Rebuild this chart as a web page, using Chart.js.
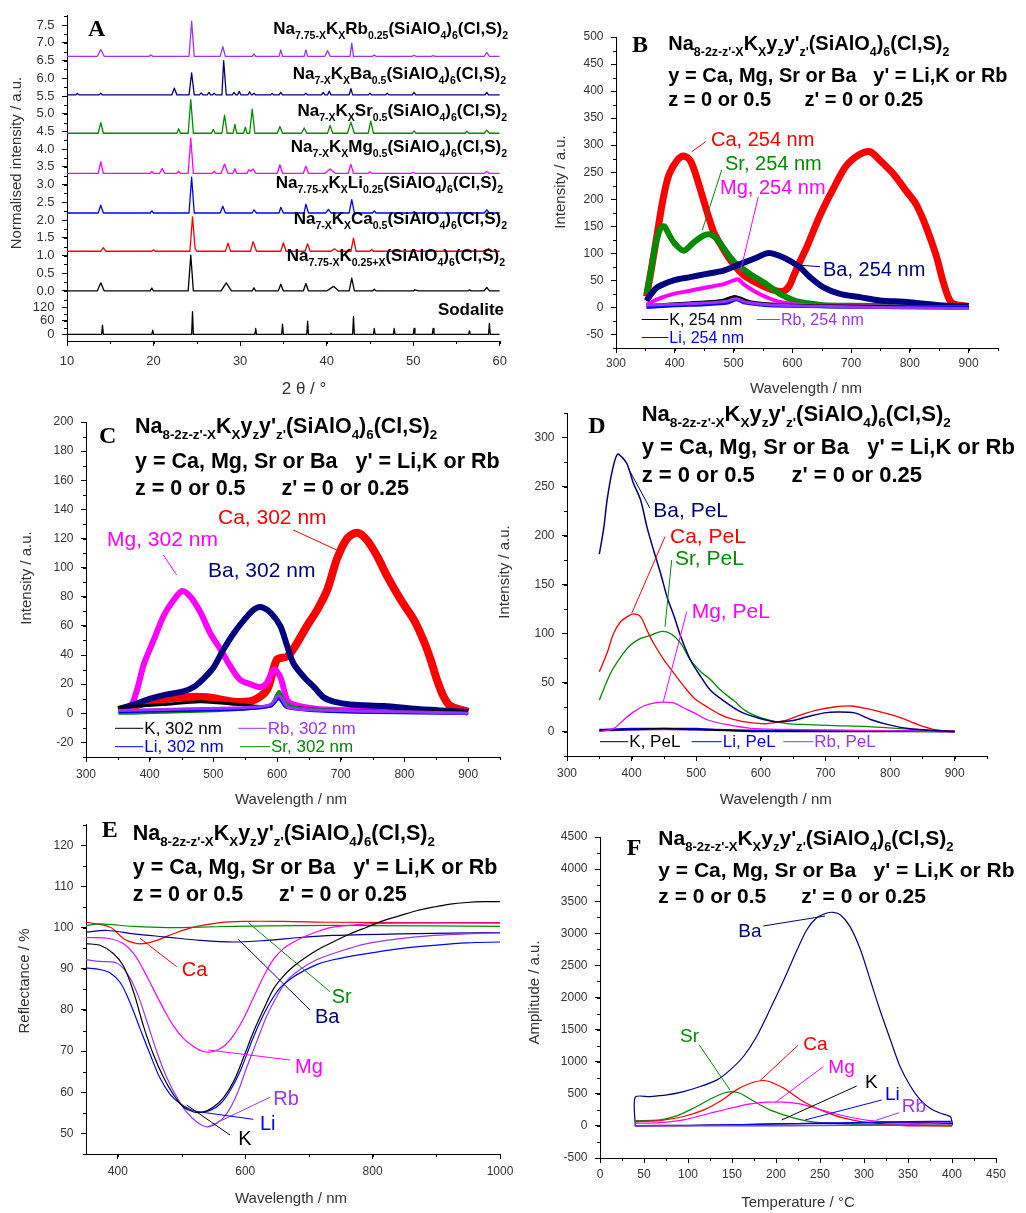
<!DOCTYPE html>
<html>
<head>
<meta charset="utf-8">
<title>Sodalite XRD, PL, reflectance and TL</title>
<script src="https://cdn.jsdelivr.net/npm/chart.js@4.4.1/dist/chart.umd.min.js"></script>
<style>
  body { margin: 0; background: #fff; }
  #page { position: relative; width: 1026px; height: 1213px; overflow: hidden; background: #fff; }
  #page canvas { position: absolute; }
</style>
</head>
<body>
<div id="page">
  <canvas id="chart-a"></canvas>
  <canvas id="chart-b"></canvas>
  <canvas id="chart-c"></canvas>
  <canvas id="chart-d"></canvas>
  <canvas id="chart-e"></canvas>
  <canvas id="chart-f"></canvas>
</div>
<script>
// ---- A: XRD patterns, [2theta, normalised intensity incl. stacking offset]
const xrdRb = [[10,6.62],[13.5,6.62],[13.9,6.81],[14.3,6.62],[19.5,6.62],[19.7,6.66],[19.9,6.62],[24.1,6.62],[24.4,7.61],[24.7,6.62],[27.7,6.62],[28.0,6.89],[28.3,6.62],[31.4,6.62],[31.6,6.69],[31.8,6.62],[34.5,6.62],[34.7,6.80],[34.9,6.62],[37.4,6.62],[37.6,6.80],[37.8,6.62],[39.8,6.62],[40.1,6.78],[40.4,6.62],[42.7,6.62],[42.9,6.99],[43.1,6.62],[45.3,6.62],[45.5,6.66],[45.7,6.62],[49.9,6.62],[50.1,6.65],[50.3,6.62],[52.1,6.62],[52.3,6.64],[52.5,6.62],[58.2,6.62],[58.5,6.73],[58.8,6.62],[60,6.62]]
const xrdBa = [[10,5.53],[11.0,5.53],[11.2,5.57],[11.4,5.53],[13.7,5.53],[13.9,5.58],[14.1,5.53],[22.1,5.53],[22.4,5.72],[22.7,5.53],[24.1,5.53],[24.4,6.15],[24.7,5.53],[25.3,5.53],[25.5,5.59],[25.7,5.53],[26.2,5.53],[26.4,5.60],[26.6,5.53],[26.8,5.53],[27.0,5.58],[27.2,5.53],[27.9,5.53],[28.1,6.50],[28.4,5.53],[29.1,5.53],[29.3,5.60],[29.5,5.53],[29.7,5.53],[29.9,5.63],[30.1,5.53],[30.9,5.53],[31.1,5.62],[31.3,5.53],[31.4,5.53],[31.6,5.58],[31.8,5.53],[33.5,5.53],[33.7,5.57],[33.9,5.53],[34.5,5.53],[34.7,5.60],[34.9,5.53],[37.4,5.53],[37.6,5.58],[37.8,5.53],[39.4,5.53],[39.6,5.60],[39.8,5.53],[40.1,5.53],[40.3,5.64],[40.5,5.53],[42.6,5.53],[42.8,5.71],[43.0,5.53],[44.8,5.53],[45.0,5.58],[45.2,5.53],[46.8,5.53],[47.0,5.58],[47.2,5.53],[49.9,5.53],[50.1,5.60],[50.3,5.53],[58.3,5.53],[58.5,5.60],[58.7,5.53],[60,5.53]]
const xrdSr = [[10,4.45],[13.6,4.45],[13.9,4.75],[14.2,4.45],[22.7,4.45],[22.9,4.58],[23.1,4.45],[24.0,4.45],[24.3,5.40],[24.6,4.45],[26.7,4.45],[26.9,4.56],[27.1,4.45],[27.9,4.45],[28.2,4.96],[28.5,4.45],[29.2,4.45],[29.4,4.70],[29.6,4.45],[30.4,4.45],[30.6,4.62],[30.8,4.45],[31.1,4.45],[31.4,5.13],[31.7,4.45],[34.3,4.45],[34.6,4.64],[34.9,4.45],[37.1,4.45],[37.4,4.60],[37.7,4.45],[40.1,4.45],[40.4,4.67],[40.7,4.45],[42.4,4.45],[42.8,4.76],[43.2,4.45],[44.8,4.45],[45.1,4.79],[45.4,4.45],[49.9,4.45],[50.1,4.52],[50.3,4.45],[56.0,4.45],[56.2,4.51],[56.4,4.45],[58.2,4.45],[58.5,4.54],[58.8,4.45],[60,4.45]]
const xrdMg = [[10,3.32],[13.6,3.32],[13.9,3.65],[14.2,3.32],[19.6,3.32],[19.8,3.37],[20.0,3.32],[20.7,3.32],[21.0,3.45],[21.3,3.32],[22.7,3.32],[22.9,3.38],[23.1,3.32],[24.0,3.32],[24.3,4.31],[24.6,3.32],[26.8,3.32],[27.0,3.38],[27.2,3.32],[27.8,3.32],[28.2,3.58],[28.6,3.32],[29.2,3.32],[29.4,3.45],[29.6,3.32],[30.8,3.32],[31.0,3.42],[31.2,3.38],[31.5,3.44],[31.8,3.32],[34.3,3.32],[34.6,3.56],[34.9,3.32],[37.3,3.32],[37.6,3.52],[37.9,3.32],[39.8,3.32],[40.4,3.44],[41.0,3.32],[42.5,3.32],[42.8,3.57],[43.1,3.32],[44.8,3.32],[45.0,3.36],[45.2,3.32],[49.8,3.32],[50.0,3.35],[50.2,3.32],[58.2,3.32],[58.5,3.37],[58.8,3.32],[60,3.32]]
const xrdLi = [[10,2.2],[13.6,2.2],[13.9,2.42],[14.2,2.2],[19.6,2.2],[19.8,2.26],[20.0,2.2],[24.1,2.2],[24.4,3.21],[24.7,2.2],[27.7,2.2],[28.0,2.39],[28.3,2.2],[31.4,2.2],[31.6,2.29],[31.9,2.2],[34.5,2.2],[34.7,2.36],[35.0,2.2],[37.4,2.2],[37.6,2.45],[37.9,2.2],[39.9,2.2],[40.2,2.3],[40.5,2.2],[42.6,2.2],[42.9,2.58],[43.2,2.2],[45.3,2.2],[45.5,2.26],[45.7,2.2],[49.9,2.2],[50.1,2.24],[50.3,2.2],[58.2,2.2],[58.5,2.29],[58.8,2.2],[60,2.2]]
const xrdCa = [[10,1.12],[13.9,1.12],[14.2,1.22],[14.5,1.12],[19.8,1.12],[20.0,1.16],[20.2,1.12],[24.2,1.12],[24.5,2.09],[24.8,1.2],[25.0,1.12],[28.3,1.12],[28.6,1.35],[28.9,1.12],[31.2,1.12],[31.5,1.39],[31.9,1.12],[34.7,1.12],[35.0,1.36],[35.3,1.12],[37.5,1.12],[37.8,1.33],[38.1,1.12],[40.5,1.12],[40.9,1.19],[41.3,1.12],[42.8,1.12],[43.1,1.49],[43.4,1.12],[45.0,1.12],[45.2,1.17],[45.4,1.12],[50.1,1.12],[50.3,1.15],[50.5,1.12],[52.1,1.12],[52.3,1.15],[52.5,1.12],[58.4,1.12],[58.7,1.2],[59.0,1.12],[60,1.12]]
const xrdK = [[10,0],[13.5,0],[13.9,0.23],[14.3,0],[19.6,0],[19.8,0.08],[20.0,0],[24.0,0],[24.3,1.01],[24.6,0],[27.8,0],[28.4,0.23],[29.0,0],[31.4,0],[31.6,0.09],[31.8,0],[34.4,0],[34.7,0.19],[35.0,0],[37.3,0],[37.6,0.21],[37.9,0],[40.0,0],[40.8,0.13],[41.4,0],[42.6,0],[42.9,0.36],[43.2,0],[45.3,0],[45.5,0.05],[45.7,0],[50.0,0],[50.2,0.03],[50.6,0],[56.3,0],[56.5,0.03],[56.7,0],[58.2,0],[58.5,0.1],[58.8,0],[60,0]]
const xrdSodalite = [[10,0],[14.0,0],[14.1,41],[14.2,0],[19.8,0],[19.9,19],[20.0,0],[24.4,0],[24.5,100],[24.6,0],[31.7,0],[31.8,26],[31.9,0],[34.8,0],[34.9,45],[35.0,0],[37.7,0],[37.8,58],[37.9,0],[40.4,0],[40.5,6],[40.6,0],[43.0,0],[43.1,78],[43.2,0],[45.4,0],[45.5,26],[45.6,0],[47.7,0],[47.8,26],[47.9,0],[50.0,0],[50.1,26],[50.2,0],[52.2,0],[52.3,26],[52.4,0],[56.4,0],[56.5,16],[56.6,0],[58.7,0],[58.8,48],[58.9,0],[60,0]]

// ---- B: emission under 254 nm, [wavelength nm, intensity]
const b254Ca = [[352,20],[360,70],[370,135],[380,200],[390,245],[404,272],[415,280],[426,272],[435,248],[443,220],[454,180],[466,140],[477,118],[490,95],[500,80],[511,66],[522,56],[545,42],[568,32],[585,30],[595,40],[602,58],[613,85],[624,110],[647,170],[670,220],[692,262],[715,283],[732,288],[749,272],[771,248],[794,215],[811,190],[828,148],[845,95],[856,50],[865,20],[872,8],[884,4],[900,2]]
const b254Sr = [[352,25],[360,70],[366,110],[375,145],[382,150],[390,135],[400,118],[415,105],[432,120],[449,133],[460,135],[470,128],[483,110],[495,92],[505,80],[528,62],[556,43],[579,25],[600,14],[613,10],[653,4],[700,3],[800,2],[900,1]]
const b254Ba = [[352,12],[360,25],[370,37],[398,50],[426,56],[454,62],[483,68],[511,80],[539,92],[556,100],[565,100],[579,95],[596,86],[613,74],[630,56],[653,37],[681,25],[715,19],[749,13],[794,10],[851,4],[900,2]]
const b254Mg = [[352,5],[370,15],[398,25],[426,31],[454,37],[483,43],[500,50],[508,52],[517,43],[534,31],[556,19],[579,10],[624,4],[700,2],[900,0]]
const b254K = [[352,3],[400,7],[450,10],[480,13],[500,20],[510,18],[530,10],[580,5],[650,3],[900,0]]
const b254Li = [[352,0],[400,3],[450,5],[490,8],[505,14],[520,8],[560,3],[700,1],[900,0]]
const b254Rb = [[352,4],[400,6],[450,8],[490,12],[505,16],[520,10],[560,5],[650,2],[750,0],[900,-2]]

// ---- C: emission under 302 nm
const c302Mg = [[351,2],[370,5],[380,16],[391,34],[406,50],[422,67],[438,78],[451,84],[464,80],[480,69],[495,55],[511,44],[527,32],[542,23],[558,20],[574,18],[584,21],[595,30],[605,25],[616,9],[626,6],[663,3],[741,2],[900,1]]
const c302Ba = [[351,3],[375,6],[401,10],[427,13],[453,15],[469,18],[485,24],[501,32],[516,44],[532,55],[548,64],[563,71],[574,73],[590,69],[605,60],[616,46],[626,34],[642,25],[658,18],[673,11],[689,8],[715,6],[768,5],[820,3],[900,1]]
const c302Ca = [[351,2],[401,8],[453,11],[490,11],[532,8],[563,9],[584,16],[600,37],[616,39],[631,48],[647,60],[663,71],[679,85],[694,106],[710,120],[726,124],[741,119],[757,108],[773,94],[794,78],[815,64],[830,50],[841,37],[851,23],[862,11],[872,5],[900,1]]
const c302Sr = [[351,0],[450,1],[550,3],[590,6],[603,15],[612,8],[630,4],[700,2],[900,0]]
const c302K = [[351,4],[420,6],[480,8],[540,6],[590,5],[603,12],[615,5],[700,2],[900,1]]
const c302Li = [[351,1],[450,2],[550,3],[590,5],[603,10],[615,4],[700,1],[900,0]]
const c302Rb = [[351,2],[450,3],[550,4],[590,6],[603,12],[618,4],[700,2],[800,1],[900,0]]

// ---- D: persistent luminescence (PeL)
const dBa = [[350,181],[357,208],[362,236],[370,266],[378,283],[385,280],[393,273],[403,253],[414,236],[424,208],[434,185],[445,161],[455,137],[466,117],[476,97],[491,73],[507,56],[522,42],[543,31],[569,20],[595,14],[621,10],[647,11],[672,15],[698,19],[719,20],[745,19],[771,12],[797,7],[828,3],[869,1],[900,0]]
const dCa = [[350,61],[362,80],[372,100],[383,112],[393,117],[403,120],[414,117],[424,103],[434,90],[450,73],[466,59],[481,46],[497,34],[517,25],[538,17],[559,12],[584,9],[610,8],[636,11],[662,17],[688,22],[714,25],[740,26],[766,23],[791,19],[817,14],[843,7],[869,2],[900,0]]
const dSr = [[350,32],[367,59],[383,76],[398,88],[414,95],[429,98],[445,102],[460,100],[476,90],[491,73],[507,61],[522,53],[538,42],[559,31],[579,20],[610,12],[641,8],[672,7],[714,6],[766,5],[817,3],[900,0]]
const dMg = [[350,0],[372,3],[388,12],[403,20],[419,26],[434,29],[450,30],[466,29],[481,24],[497,19],[517,12],[548,7],[590,3],[662,2],[900,0]]
const dK = [[350,1],[400,2],[450,3],[500,2],[550,1],[600,0],[900,0]]
const dLi = [[350,2],[400,3],[450,3],[500,3],[530,2],[600,1],[900,0]]
const dRb = [[350,1],[450,2],[550,1],[700,1],[900,0]]

// ---- E: diffuse reflectance, [wavelength nm, %]
const eK = [[350,96.1],[372,95.7],[393,93.7],[409,90.6],[425,84.2],[440,76.2],[456,69.1],[472,63.5],[487,59.5],[503,56.4],[519,55.2],[534,55.2],[550,56.4],[566,58.7],[582,62.7],[597,68.3],[613,74.7],[629,80.2],[644,85.0],[660,88.2],[676,90.6],[697,93.0],[718,95.0],[738,96.5],[765,98.5],[791,100.1],[817,101.7],[843,102.9],[869,104.1],[896,105.0],[922,105.7],[948,106.1],[974,106.3],[1000,106.3]]
const eLi = [[350,90.2],[372,89.8],[388,89.0],[404,86.6],[419,81.8],[435,75.4],[451,69.1],[466,63.5],[482,59.5],[498,57.2],[514,55.8],[529,55.2],[545,55.6],[561,57.2],[576,60.3],[592,65.1],[608,71.5],[623,77.0],[639,81.8],[655,85.4],[670,87.4],[686,89.0],[712,91.0],[738,92.2],[791,93.7],[843,94.9],[896,95.7],[948,96.3],[1000,96.5]]
const eRb = [[350,92.2],[372,91.8],[398,91.4],[414,89.0],[430,84.2],[446,77.0],[461,69.9],[477,63.5],[493,58.7],[508,55.2],[524,52.8],[540,51.6],[555,52.4],[571,54.8],[587,59.5],[602,65.9],[618,72.3],[634,78.6],[650,83.4],[665,87.0],[686,89.8],[712,92.2],[738,93.7],[791,96.1],[843,97.3],[896,98.1],[948,98.5],[1000,98.7]]
const eMg = [[350,97.6],[388,97.3],[409,96.1],[425,93.7],[440,89.8],[456,85.0],[472,80.2],[487,76.2],[503,73.1],[519,71.1],[534,69.9],[550,69.9],[566,71.1],[582,73.9],[597,77.8],[613,83.0],[629,88.2],[644,92.2],[660,94.9],[676,96.5],[697,98.1],[718,99.3],[738,100.1],[791,100.9],[843,101.1],[1000,101.1]]
const eCa = [[350,101.3],[388,100.1],[409,97.3],[425,96.3],[440,96.1],[461,96.9],[487,98.5],[519,100.1],[555,101.1],[597,101.5],[660,101.5],[738,101.3],[1000,101.2]]
const eSr = [[350,100.5],[372,100.9],[425,100.3],[477,100.0],[529,100.1],[582,100.3],[686,100.5],[791,100.5],[1000,100.3]]
const eBa = [[350,98.9],[383,99.3],[425,98.5],[477,97.7],[529,96.9],[582,96.5],[634,96.9],[686,97.6],[738,98.1],[843,98.5],[1000,98.8]]

// ---- F: thermoluminescence, [temperature C, amplitude]
const fBa = [[40,0],[40,447],[57,457],[76,483],[95,535],[114,613],[133,717],[148,873],[163,1081],[178,1393],[193,1809],[209,2276],[224,2744],[235,3056],[246,3238],[258,3316],[265,3326],[273,3290],[284,3108],[296,2744],[307,2276],[318,1809],[330,1341],[341,925],[353,613],[364,405],[375,275],[387,197],[398,146],[400,68],[400,15],[40,5]]
const fSr = [[40,83],[68,94],[87,156],[106,275],[125,416],[140,509],[150,535],[159,509],[171,416],[182,327],[193,249],[209,171],[224,109],[239,68],[258,42],[296,26],[334,16],[400,0]]
const fCa = [[40,68],[68,83],[95,146],[118,249],[136,379],[155,561],[171,665],[186,707],[197,665],[209,587],[220,483],[231,379],[246,275],[262,187],[277,120],[296,68],[315,42],[334,16],[353,0],[400,0]]
const fMg = [[40,42],[68,52],[95,94],[125,197],[148,275],[171,343],[190,369],[209,369],[227,343],[246,275],[265,197],[284,135],[307,83],[334,57],[372,52],[400,68]]
const fK = [[40,5],[100,10],[150,18],[200,30],[250,40],[300,48],[350,45],[400,40]]
const fLi = [[40,0],[100,5],[150,18],[200,30],[250,42],[300,55],[353,68],[400,70]]
const fRb = [[40,0],[100,2],[200,5],[300,10],[350,20],[400,60]]

const SANS = '"Liberation Sans", Arial, sans-serif'
const SERIF = '"Liberation Serif", "Times New Roman", serif'
const RED = '#ff0000', GREEN = '#008c00', BLUE = '#0000ff', NAVY = '#000080'
const MAGENTA = '#ff00ff', PURPLE = '#9933ff', BLACK = '#000000', GREY = '#333333'

Chart.defaults.font.family = SANS

const FORMULA = "Na_{8-2z-z'-X}K_{X}y_{z}y'_{z'}(SiAlO_{4})_{6}(Cl,S)_{2}"
const FORMULA_Y = "y = Ca, Mg, Sr or Ba   y' = Li,K or Rb"
const FORMULA_Z = "z = 0 or 0.5      z' = 0 or 0.25"

function parseRich(str) {
  const parts = []
  const re = /_\{([^}]*)\}/g
  let last = 0
  let m
  while ((m = re.exec(str)) !== null) {
    if (m.index > last) parts.push({ t: str.slice(last, m.index), sub: false })
    parts.push({ t: m[1], sub: true })
    last = re.lastIndex
  }
  if (last < str.length) parts.push({ t: str.slice(last), sub: false })
  return parts
}

function drawRich(ctx, r) {
  const size = r.size
  const parts = parseRich(r.s)
  const fontOf = p => `bold ${p.sub ? size * 0.62 : size}px ${SANS}`
  let total = 0
  for (const p of parts) {
    ctx.font = fontOf(p)
    total += ctx.measureText(p.t).width
  }
  let cx = r.align === 'right' ? r.x - total : r.x
  ctx.fillStyle = r.color || BLACK
  ctx.textAlign = 'left'
  ctx.textBaseline = 'alphabetic'
  for (const p of parts) {
    ctx.font = fontOf(p)
    ctx.fillText(p.t, cx, p.sub ? r.y + size * 0.3 : r.y)
    cx += ctx.measureText(p.t).width
  }
}

// notes are given in page pixels; the plugin shifts them into the canvas
function notesPlugin(box, notes) {
  return {
    id: 'notes',
    afterDraw(chart) {
      const ctx = chart.ctx
      ctx.save()
      ctx.translate(-box.x, -box.y)
      ctx.lineWidth = 1
      for (const [x1, y1, x2, y2, c] of notes.leaders || []) {
        ctx.strokeStyle = c
        ctx.beginPath()
        ctx.moveTo(x1, y1)
        ctx.lineTo(x2, y2)
        ctx.stroke()
      }
      for (const t of notes.texts || []) {
        ctx.save()
        ctx.font = `${t.bold ? 'bold ' : ''}${t.size}px ${t.serif ? SERIF : SANS}`
        ctx.fillStyle = t.color || BLACK
        ctx.translate(t.x, t.y)
        if (t.rot) {
          ctx.rotate(-Math.PI / 2)
          ctx.textAlign = 'center'
          ctx.textBaseline = 'middle'
        } else {
          ctx.textAlign = t.align || 'left'
          ctx.textBaseline = 'alphabetic'
        }
        ctx.fillText(t.t, 0, 0)
        ctx.restore()
      }
      for (const r of notes.rich || []) drawRich(ctx, r)
      ctx.restore()
    }
  }
}

function minorPlugin(steps) {
  return {
    id: 'minor',
    afterDraw(chart) {
      const ctx = chart.ctx
      ctx.save()
      ctx.strokeStyle = BLACK
      ctx.lineWidth = 1
      ctx.beginPath()
      for (const [id, step] of steps) {
        const s = chart.scales[id]
        const first = Math.ceil(s.min / step - 1e-9)
        const last = Math.floor(s.max / step + 1e-9)
        for (let i = first; i <= last; i++) {
          const p = Math.round(s.getPixelForValue(i * step)) + 0.5
          if (s.isHorizontal()) {
            ctx.moveTo(p, s.top)
            ctx.lineTo(p, s.top + 3)
          } else {
            ctx.moveTo(s.right, p)
            ctx.lineTo(s.right - 3, p)
          }
        }
      }
      ctx.stroke()
      ctx.restore()
    }
  }
}

const fmt0 = v => String(v)
const fmt1 = v => v.toFixed(1)

function axis(min, max, step, fmt, pad, fit, horizontal, fontSize) {
  return {
    type: 'linear',
    min,
    max,
    border: { color: BLACK, width: 1 },
    grid: { drawOnChartArea: false, drawTicks: true, tickLength: 5, color: BLACK, lineWidth: 1 },
    ticks: {
      stepSize: step, autoSkip: false, maxRotation: 0,
      padding: pad, color: GREY, font: { size: fontSize || 12 }, callback: fmt
    },
    // major ticks only on whole multiples of the step
    afterBuildTicks: s => {
      const first = Math.ceil(min / step - 1e-9)
      const last = Math.floor(max / step + 1e-9)
      const ticks = []
      for (let i = first; i <= last; i++) ticks.push({ value: +(i * step).toFixed(6) })
      s.ticks = ticks
    },
    afterFit: s => {
      if (horizontal) s.height = fit
      else s.width = fit
    }
  }
}

function series(points, color, width, tension, yAxisID) {
  return {
    data: points.map(([x, y]) => ({ x, y })),
    borderColor: color,
    borderWidth: width,
    pointRadius: 0,
    tension: tension,
    fill: false,
    borderJoinStyle: 'round',
    yAxisID: yAxisID || 'y'
  }
}

function panel(id, box, area, scales, datasets, minor, notes) {
  const cv = document.getElementById(id)
  cv.width = box.w
  cv.height = box.h
  cv.style.left = box.x + 'px'
  cv.style.top = box.y + 'px'
  cv.style.width = box.w + 'px'
  cv.style.height = box.h + 'px'
  return new Chart(cv, {
    type: 'line',
    data: { datasets },
    options: {
      responsive: false,
      animation: false,
      events: [],
      layout: { padding: { top: area.t - box.y, right: box.x + box.w - area.r, left: 0, bottom: 0 } },
      plugins: { legend: { display: false }, tooltip: { enabled: false } },
      scales
    },
    plugins: [minorPlugin(minor), notesPlugin(box, notes)]
  })
}

function xFit(box, area) { return box.y + box.h - area.b }
function yFit(box, area) { return area.l - box.x }

function formulaBlock(x, y1, y2, y3, size) {
  return [
    { s: FORMULA, x, y: y1, size },
    { s: FORMULA_Y, x, y: y2, size },
    { s: FORMULA_Z, x, y: y3, size }
  ]
}

function legendRow(x1, x2, y, color, label, size) {
  return {
    leader: [x1, y, x2, y, color],
    text: { t: label, x: x2 + 1, y: y + size * 0.33, size, color }
  }
}

// ---------- Panel A ----------
{
  const box = { x: 0, y: 0, w: 515, h: 400 }
  const area = { l: 67, t: 9, r: 502, b: 341 }
  const yTop = axis(-0.083, 7.777, 0.5, fmt1, 7.5, yFit(box, area), false, 13)
  yTop.stack = 'a'
  yTop.stackWeight = 284
  const yLow = axis(-29, 178, 60, fmt0, 7.5, yFit(box, area), false, 13)
  yLow.stack = 'a'
  yLow.stackWeight = 48
  // left stacks are laid out last-defined first, so the lower axis is listed first
  const scales = { x: axis(10, 60, 10, fmt0, 8, xFit(box, area), true, 13), y2: yLow, y: yTop }
  const datasets = [
    series(xrdRb, PURPLE, 1.3, 0),
    series(xrdBa, NAVY, 1.3, 0),
    series(xrdSr, GREEN, 1.3, 0),
    series(xrdMg, MAGENTA, 1.3, 0),
    series(xrdLi, BLUE, 1.3, 0),
    series(xrdCa, RED, 1.3, 0),
    series(xrdK, BLACK, 1.3, 0),
    series(xrdSodalite, BLACK, 1.3, 0, 'y2')
  ]
  const L = 17
  panel('chart-a', box, area, scales, datasets, [['x', 5], ['y', 0.25], ['y2', 30]], {
    texts: [
      { t: 'A', x: 88, y: 36, size: 24, bold: true, serif: true },
      { t: 'Normalised intensity / a.u.', x: 17, y: 163, size: 15, color: GREY, rot: true },
      { t: '2 θ / °', x: 304, y: 394, size: 17, color: GREY, align: 'center' },
      { t: 'Sodalite', x: 504, y: 315, size: L, bold: true, align: 'right' }
    ],
    rich: [
      { s: 'Na_{7.75-X}K_{X}Rb_{0.25}(SiAlO_{4})_{6}(Cl,S)_{2}', x: 508, y: 34, size: L, align: 'right' },
      { s: 'Na_{7-X}K_{X}Ba_{0.5}(SiAlO_{4})_{6}(Cl,S)_{2}', x: 506, y: 79, size: L, align: 'right' },
      { s: 'Na_{7-X}K_{X}Sr_{0.5}(SiAlO_{4})_{6}(Cl,S)_{2}', x: 507, y: 115.5, size: L, align: 'right' },
      { s: 'Na_{7-X}K_{X}Mg_{0.5}(SiAlO_{4})_{6}(Cl,S)_{2}', x: 507, y: 151.5, size: L, align: 'right' },
      { s: 'Na_{7.75-X}K_{X}Li_{0.25}(SiAlO_{4})_{6}(Cl,S)_{2}', x: 503, y: 188, size: L, align: 'right' },
      { s: 'Na_{7-X}K_{X}Ca_{0.5}(SiAlO_{4})_{6}(Cl,S)_{2}', x: 507, y: 224, size: L, align: 'right' },
      { s: 'Na_{7.75-X}K_{0.25+X}(SiAlO_{4})_{6}(Cl,S)_{2}', x: 505, y: 260.5, size: L, align: 'right' }
    ]
  })
}

// ---------- Panel B ----------
{
  const box = { x: 530, y: 0, w: 496, h: 400 }
  const area = { l: 616, t: 37, r: 998, b: 348 }
  const scales = {
    x: axis(300, 950, 100, fmt0, 3, xFit(box, area), true),
    y: axis(-75, 500, 50, fmt0, 7.5, yFit(box, area), false)
  }
  const datasets = [
    series(b254Rb, PURPLE, 3, 0.3),
    series(b254Li, BLUE, 3, 0.3),
    series(b254K, BLACK, 3, 0.3),
    series(b254Mg, MAGENTA, 4, 0.3),
    series(b254Ba, NAVY, 6, 0.3),
    series(b254Sr, GREEN, 6, 0.3),
    series(b254Ca, RED, 7, 0.3)
  ]
  const lg = [
    legendRow(641.7, 668.3, 319.5, BLACK, 'K, 254 nm', 16),
    legendRow(756.7, 780, 319.5, PURPLE, 'Rb, 254 nm', 16),
    legendRow(641.7, 668.3, 337.5, BLUE, 'Li, 254 nm', 16)
  ]
  panel('chart-b', box, area, scales, datasets, [['x', 50], ['y', 25]], {
    leaders: [
      [705.7, 141.7, 691.7, 151.7, RED],
      [721.7, 170, 702.3, 230, GREEN],
      [758.3, 196.7, 740, 273.3, MAGENTA],
      [820, 266.7, 796.7, 265, NAVY],
      ...lg.map(l => l.leader)
    ],
    texts: [
      { t: 'B', x: 632, y: 51.7, size: 24, bold: true, serif: true },
      { t: 'Ca, 254 nm', x: 711, y: 146, size: 20, color: RED },
      { t: 'Sr, 254 nm', x: 725, y: 170, size: 20, color: GREEN },
      { t: 'Mg, 254 nm', x: 720, y: 194, size: 20, color: MAGENTA },
      { t: 'Ba, 254 nm', x: 823, y: 276, size: 20, color: NAVY },
      { t: 'Intensity / a.u.', x: 560.5, y: 182, size: 15, color: GREY, rot: true },
      { t: 'Wavelength / nm', x: 806, y: 392.7, size: 15, color: GREY, align: 'center' },
      ...lg.map(l => l.text)
    ],
    rich: formulaBlock(668.3, 50, 81.7, 106, 20)
  })
}

// ---------- Panel C ----------
{
  const box = { x: 0, y: 398, w: 510, h: 412 }
  const area = { l: 86, t: 422, r: 500, b: 757 }
  const scales = {
    x: axis(300, 950, 100, fmt0, 5, xFit(box, area), true),
    y: axis(-30, 200, 20, fmt0, 7.5, yFit(box, area), false)
  }
  const datasets = [
    series(c302Rb, PURPLE, 3, 0.3),
    series(c302Li, BLUE, 3, 0.3),
    series(c302Sr, GREEN, 3, 0.3),
    series(c302K, BLACK, 3, 0.3),
    series(c302Ba, NAVY, 6, 0.3),
    series(c302Mg, MAGENTA, 6, 0.3),
    series(c302Ca, RED, 8, 0.3)
  ]
  const lg = [
    legendRow(115, 143.3, 728.3, BLACK, 'K, 302 nm', 17),
    legendRow(238.3, 266.7, 728.3, PURPLE, 'Rb, 302 nm', 17),
    legendRow(115, 143.3, 746.7, BLUE, 'Li, 302 nm', 17),
    legendRow(240, 270, 746.7, GREEN, 'Sr, 302 nm', 17)
  ]
  panel('chart-c', box, area, scales, datasets, [['x', 50], ['y', 10]], {
    leaders: [
      [163.3, 555, 176.7, 575, MAGENTA],
      [293.3, 530, 336.7, 550, RED],
      ...lg.map(l => l.leader)
    ],
    texts: [
      { t: 'C', x: 99, y: 443, size: 24, bold: true, serif: true },
      { t: 'Mg, 302 nm', x: 107, y: 545.5, size: 21, color: MAGENTA },
      { t: 'Ba, 302 nm', x: 208, y: 577, size: 21, color: NAVY },
      { t: 'Ca, 302 nm', x: 218, y: 524, size: 21, color: RED },
      { t: 'Intensity / a.u.', x: 26.7, y: 578, size: 15, color: GREY, rot: true },
      { t: 'Wavelength / nm', x: 291, y: 804, size: 15, color: GREY, align: 'center' },
      ...lg.map(l => l.text)
    ],
    rich: formulaBlock(135, 433, 467.5, 494.5, 21.5)
  })
}

// ---------- Panel D ----------
{
  const box = { x: 490, y: 398, w: 536, h: 412 }
  const area = { l: 567, t: 413, r: 987, b: 756 }
  const scales = {
    x: axis(300, 950, 100, fmt0, 5, xFit(box, area), true),
    y: axis(-25, 325, 50, fmt0, 7.5, yFit(box, area), false)
  }
  const datasets = [
    series(dBa, NAVY, 1.5, 0.3),
    series(dCa, RED, 1.3, 0.3),
    series(dSr, GREEN, 1.3, 0.3),
    series(dMg, MAGENTA, 1.3, 0.3),
    series(dK, BLACK, 1.5, 0.3),
    series(dLi, BLUE, 1.5, 0.3),
    series(dRb, PURPLE, 1.5, 0.3)
  ]
  const lg = [
    legendRow(600, 628.3, 741.7, BLACK, 'K, PeL', 17),
    legendRow(691.7, 721.7, 741.7, BLUE, 'Li, PeL', 17),
    legendRow(783.3, 813.3, 741.7, PURPLE, 'Rb, PeL', 17)
  ]
  panel('chart-d', box, area, scales, datasets, [['x', 50], ['y', 25]], {
    leaders: [
      [650, 508.3, 628.3, 468.3, NAVY],
      [665, 536.7, 631.7, 613.3, RED],
      [671.7, 560, 665, 626.7, GREEN],
      [686.7, 611.7, 663.3, 701.7, MAGENTA],
      ...lg.map(l => l.leader)
    ],
    texts: [
      { t: 'D', x: 588.3, y: 433, size: 24, bold: true, serif: true },
      { t: 'Ba, PeL', x: 653.3, y: 516.7, size: 21, color: NAVY },
      { t: 'Ca, PeL', x: 670, y: 542.7, size: 21, color: RED },
      { t: 'Sr, PeL', x: 675, y: 565, size: 21, color: GREEN },
      { t: 'Mg, PeL', x: 691.7, y: 618.3, size: 21, color: MAGENTA },
      { t: 'Intensity / a.u.', x: 505, y: 572, size: 15, color: GREY, rot: true },
      { t: 'Wavelength / nm', x: 775.8, y: 804, size: 15, color: GREY, align: 'center' },
      ...lg.map(l => l.text)
    ],
    rich: formulaBlock(641.7, 420.7, 454, 481.7, 22)
  })
}

// ---------- Panel E ----------
{
  const box = { x: 0, y: 810, w: 522, h: 403 }
  const area = { l: 86, t: 820, r: 500, b: 1154 }
  const scales = {
    x: axis(350, 1000, 200, fmt0, 5.5, xFit(box, area), true),
    y: axis(45, 125, 10, fmt0, 7.5, yFit(box, area), false)
  }
  const datasets = [
    series(eK, BLACK, 1.2, 0.35),
    series(eLi, BLUE, 1.2, 0.35),
    series(eRb, PURPLE, 1.2, 0.35),
    series(eMg, MAGENTA, 1.2, 0.35),
    series(eBa, NAVY, 1.2, 0.35),
    series(eSr, GREEN, 1.2, 0.35),
    series(eCa, RED, 1.2, 0.35)
  ]
  panel('chart-e', box, area, scales, datasets, [['x', 100], ['y', 5]], {
    leaders: [
      [176.7, 966.7, 140, 938.3, RED],
      [330, 991.7, 248.3, 922.7, GREEN],
      [310, 1010, 238.3, 939.3, NAVY],
      [290, 1060, 208.3, 1050, MAGENTA],
      [270, 1097.3, 208.3, 1126.7, PURPLE],
      [253.3, 1119.3, 198.3, 1111.7, BLUE],
      [230, 1135, 186.7, 1105, BLACK]
    ],
    texts: [
      { t: 'E', x: 101.7, y: 836.7, size: 24, bold: true, serif: true },
      { t: 'Ca', x: 181.7, y: 975.7, size: 20, color: RED },
      { t: 'Sr', x: 331.7, y: 1002.7, size: 20, color: GREEN },
      { t: 'Ba', x: 315, y: 1023.3, size: 20, color: NAVY },
      { t: 'Mg', x: 295, y: 1073.3, size: 20, color: MAGENTA },
      { t: 'Rb', x: 273.3, y: 1105, size: 20, color: PURPLE },
      { t: 'Li', x: 260, y: 1130, size: 20, color: BLUE },
      { t: 'K', x: 238.3, y: 1145, size: 20, color: BLACK },
      { t: 'Reflectance / %', x: 25, y: 981, size: 15, color: GREY, rot: true },
      { t: 'Wavelength / nm', x: 291, y: 1203, size: 15, color: GREY, align: 'center' }
    ],
    rich: formulaBlock(132.7, 840, 874, 900.7, 21.5)
  })
}

// ---------- Panel F ----------
{
  const box = { x: 515, y: 810, w: 511, h: 403 }
  const area = { l: 600, t: 837, r: 996, b: 1158 }
  const scales = {
    x: axis(0, 450, 50, fmt0, 4, xFit(box, area), true),
    y: axis(-500, 4500, 500, fmt0, 7.5, yFit(box, area), false)
  }
  const datasets = [
    series(fRb, PURPLE, 1.2, 0.3),
    series(fLi, BLUE, 1.2, 0.3),
    series(fK, BLACK, 1.2, 0.3),
    series(fMg, MAGENTA, 1.2, 0.3),
    series(fCa, RED, 1.2, 0.3),
    series(fSr, GREEN, 1.2, 0.3),
    series(fBa, NAVY, 1.2, 0.25)
  ]
  panel('chart-f', box, area, scales, datasets, [['x', 25], ['y', 250]], {
    leaders: [
      [763.3, 926, 825, 916, NAVY],
      [699.3, 1045, 730, 1090, GREEN],
      [798.3, 1045, 760, 1080.7, RED],
      [823.3, 1066.7, 775, 1102.7, MAGENTA],
      [856.7, 1086, 781.7, 1120, BLACK],
      [881.7, 1100, 805, 1120, BLUE],
      [899.3, 1112.7, 876.7, 1120, PURPLE]
    ],
    texts: [
      { t: 'F', x: 626.7, y: 855, size: 24, bold: true, serif: true },
      { t: 'Ba', x: 738.3, y: 936.7, size: 19, color: NAVY },
      { t: 'Sr', x: 680, y: 1041.7, size: 19, color: GREEN },
      { t: 'Ca', x: 803.3, y: 1050, size: 19, color: RED },
      { t: 'Mg', x: 828.3, y: 1073.3, size: 19, color: MAGENTA },
      { t: 'K', x: 865, y: 1088.3, size: 19, color: BLACK },
      { t: 'Li', x: 885, y: 1100, size: 19, color: BLUE },
      { t: 'Rb', x: 901.7, y: 1111.7, size: 19, color: PURPLE },
      { t: 'Amplitude / a.u.', x: 535, y: 992.5, size: 15, color: GREY, rot: true },
      { t: 'Temperature / °C', x: 798, y: 1206.7, size: 15, color: GREY, align: 'center' }
    ],
    rich: formulaBlock(658.3, 845, 876.7, 903.3, 21)
  })
}
</script>
</body>
</html>
